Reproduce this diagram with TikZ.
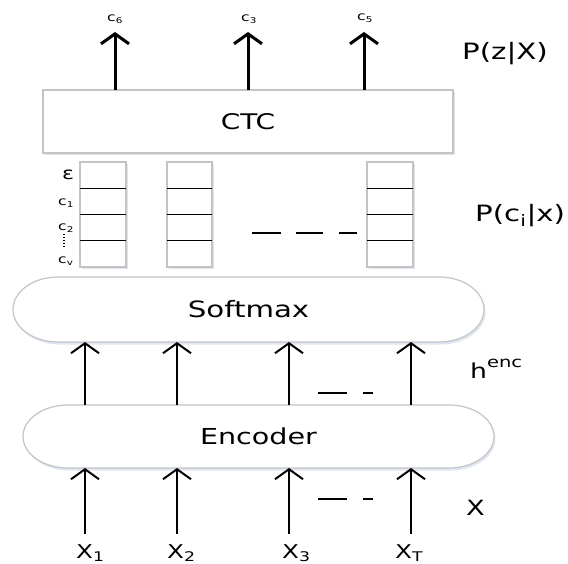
\documentclass[tikz,border=0pt]{standalone}
\usepackage{fontspec}
\setmainfont{DejaVu Sans}[FakeStretch=1.3]
\usetikzlibrary{arrows.meta,shadows,calc}
\pgfdeclarelayer{background}
\pgfsetlayers{background,main}

\definecolor{boxedge}{HTML}{C4C4C4}
\definecolor{boxshade}{HTML}{D6E0EE}

\newcommand\setfs[1]{\fontsize{#1}{#1}\selectfont}

% outline of a pill-shaped block around a named (invisible) node
\newcommand\pillpath[3]{%
  \path[panel] ([xshift=#2]#1.north west) -- ([xshift=-#2]#1.north east)
    arc[start angle=90, end angle=-90, x radius=#2, y radius=#3]
    -- ([xshift=#2]#1.south west)
    arc[start angle=270, end angle=90, x radius=#2, y radius=#3] -- cycle;}

\tikzset{
  panel/.style={draw=boxedge, line width=1.2pt, fill=white,
    drop shadow={shadow xshift=1.5pt, shadow yshift=-2.5pt, fill=boxshade, opacity=0.8}},
  blocktext/.style={inner sep=0pt, outer sep=0pt, font=\setfs{22.5}},
  cell/.style={panel, inner sep=0pt, outer sep=0pt, minimum width=46pt, minimum height=105pt},
  cellline/.style={black, line width=1.4pt},
  bigarrow/.style={line width=3pt, -{Straight Barb[length=10pt, width=28pt]}},
  smallarrow/.style={line width=2pt, -{Straight Barb[length=10pt, width=28pt]}},
  gap/.style={line width=2pt},
  lbl/.style={inner sep=0pt, anchor=base west},
  tiny/.style={lbl, font=\setfs{12}},
}

\begin{document}
\begin{tikzpicture}[x=1pt, y=-1pt]
\useasboundingbox (0,0) rectangle (568,564);
\begin{pgfonlayer}{background}
  \fill[white] (0,0) rectangle (568,564);
\end{pgfonlayer}

% CTC block
\node[panel, blocktext, minimum width=410pt, minimum height=63pt, font=\setfs{21.5}] (ctc) at (248,121.5) {CTC};

% per-frame output distributions
\node[cell] (col1) at (103,214.5) {};
\node[cell, minimum width=45pt] (col2) at (189.5,214.5) {};
\node[cell] (col3) at (390,214.5) {};
\foreach \c in {col1,col2,col3}
  \foreach \f in {0.25,0.5,0.75}
    \draw[cellline] ($(\c.north west)!\f!(\c.south west)$) -- ($(\c.north east)!\f!(\c.south east)$);

% symbol labels of the first column
\node[lbl, font=\setfs{17}] (eps) at (62,180) {ε};
\node[tiny] (k1) at (58,206) {c\textsubscript{1}};
\node[tiny] (k2) at (58,231) {c\textsubscript{2}};
\node[tiny] (kv) at (58,264) {c\textsubscript{v}};
\draw[line width=1.5pt, dash pattern=on 1.5pt off 1.5pt] (64,234) -- (64,249);

% elided columns
\draw[gap] (252,233) -- (281,233);
\draw[gap] (296,233) -- (323,233);
\draw[gap] (339,233) -- (357,233);

% Softmax and Encoder blocks
\node[blocktext, minimum width=471pt, minimum height=65pt] (soft) at (248.5,309.5) {Softmax};
\node[blocktext, minimum width=471pt, minimum height=63pt, font=\setfs{22}] (enc) at (258.5,436.5) {Encoder};
\begin{pgfonlayer}{background}
  \pillpath{soft}{45pt}{32.5pt}
  \pillpath{enc}{45pt}{31.5pt}
\end{pgfonlayer}

% output labels and arrows
\coordinate (o1) at (115,32);
\coordinate (o2) at (248,32);
\coordinate (o3) at (364,32);
\node[tiny] (y1) at (107,22) {c\textsubscript{6}};
\node[tiny] (y2) at (241,22) {c\textsubscript{3}};
\node[tiny] (y3) at (357,20.5) {c\textsubscript{5}};
\foreach \o in {o1,o2,o3}
  \draw[bigarrow] (\o |- ctc.north) -- (\o);

% inputs and arrows through the encoder
\coordinate (i1) at (85,534);
\coordinate (i2) at (177,534);
\coordinate (i3) at (289,534);
\coordinate (i4) at (411,534);
\foreach \i in {i1,i2,i3,i4} {
  \draw[smallarrow] (\i) -- (\i |- enc.south);
  \draw[smallarrow] (\i |- enc.north) -- (\i |- soft.south);
}
\draw[gap] (318,393) -- (347,393);
\draw[gap] (363,393) -- (373,393);
\draw[gap] (318,499) -- (347,499);
\draw[gap] (363,499) -- (373,499);

\node[lbl, font=\setfs{19}] (x1) at (76,558) {X\textsubscript{1}};
\node[lbl, font=\setfs{19}] (x2) at (167,558) {X\textsubscript{2}};
\node[lbl, font=\setfs{19}] (x3) at (282,558) {X\textsubscript{3}};
\node[lbl, font=\setfs{19}] (xT) at (395,558) {X\textsubscript{T}};

% right-hand annotations
\node[lbl, font=\setfs{22.5}] (pz) at (462,60) {P(z|X)};
\node[lbl, font=\setfs{22.5}] (pc) at (475,222) {P(c\textsubscript{i}|x)};
\node[lbl, font=\setfs{20.5}] (hen) at (470,378) {h\raisebox{11pt}{\setfs{15}enc}};
\node[lbl, font=\setfs{21}] (xin) at (466,515) {X};
\end{tikzpicture}
\end{document}
